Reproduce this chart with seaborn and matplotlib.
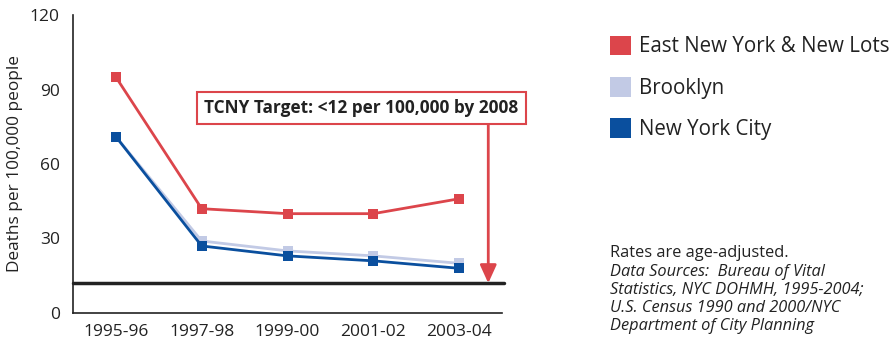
import matplotlib
matplotlib.use("Agg")
import matplotlib.pyplot as plt
import seaborn as sns
import pandas as pd
from matplotlib.patches import Patch

periods = ["1995-96", "1997-98", "1999-00", "2001-02", "2003-04"]
east_ny = [95, 42, 40, 40, 46]
brooklyn = [71, 29, 25, 23, 20]
nyc = [71, 27, 23, 21, 18]
series_names = ["East New York & New Lots", "Brooklyn", "New York City"]
colors = ["#DC454B", "#C2CAE5", "#0A4F9E"]
target = 12
yticks = [0, 30, 60, 90, 120]
note_lines = ["Data Sources:  Bureau of Vital", "Statistics, NYC DOHMH, 1995-2004;",
              "U.S. Census 1990 and 2000/NYC", "Department of City Planning"]

df = pd.concat([
    pd.DataFrame({"period": periods, "rate": vals, "area": name})
    for name, vals in zip(series_names, [east_ny, brooklyn, nyc])
])

sns.set_style("white")
plt.rcParams['font.family'] = ['Open Sans', 'DejaVu Sans']

fig = plt.figure(figsize=(8.92, 3.39), dpi=100)
ax = fig.add_axes([73/892, 1-313/339, (502-73)/892, (313-15)/339])

sns.lineplot(data=df, x="period", y="rate", hue="area", hue_order=series_names,
             palette=colors, marker="s", markersize=7, markeredgewidth=0,
             linewidth=2, legend=False, ax=ax, sort=False)

ax.set_xlim(-0.5, len(periods) - 0.5)
ax.set_ylim(0, 120)
ax.set_yticks(yticks)
ax.set_xticks([i - 0.5 for i in range(len(periods) + 1)])
ax.set_xticklabels([])
ax.set_xticks(range(len(periods)), minor=True)
ax.set_xticklabels(periods, minor=True, fontsize=12.5, color="#222222")
ax.tick_params(axis="x", which="major", length=7, width=1.2, color="#222222", direction="out")
ax.tick_params(axis="x", which="minor", length=0, pad=8)
ax.tick_params(axis="y", length=6, width=1.2, color="#222222", direction="out",
               labelsize=12.5, labelcolor="#222222")
for s in ["top", "right"]:
    ax.spines[s].set_visible(False)
for s in ["left", "bottom"]:
    ax.spines[s].set_color("#222222")
    ax.spines[s].set_linewidth(1.2)
ax.set_xlabel("")
ax.set_ylabel("Deaths per 100,000 people", fontsize=12.4, color="#222222", labelpad=5)

# target line
ax.plot([-0.5, 4.52], [target, target], color="#222222", linewidth=2.5, clip_on=False, zorder=1)

# annotation arrow and box
ax.annotate("", xy=(4.34, target), xytext=(4.34, 75.8),
            arrowprops=dict(arrowstyle="-|>,head_length=1.1,head_width=0.5",
                            color="#DC454B", lw=2, shrinkA=0, shrinkB=0),
            annotation_clip=False, zorder=3)
ax.text(2.86, 82.5, "TCNY Target: <12 per 100,000 by 2008", ha="center", va="center",
        fontsize=12.4, fontweight="bold", color="#222222", clip_on=False, zorder=4,
        bbox=dict(boxstyle="square,pad=0.42", facecolor="white", edgecolor="#DC454B", lw=1.5))

# legend
handles = [Patch(facecolor=c, edgecolor="none") for c in colors]
fig.legend(handles, series_names, loc="upper left", bbox_to_anchor=(591/892, 1-17/339),
           frameon=False, fontsize=14.8, handlelength=1.05, handleheight=1.1,
           labelspacing=0.95, handletextpad=0.4, labelcolor="#222222")

# notes
fig.text(610/892, 1-253/339, "Rates are age-adjusted.", fontsize=11.8, color="#222222", va="center")
for i, line in enumerate(note_lines):
    fig.text(610/892, 1-(271.5 + 18.3*i)/339, line, fontsize=11.8, color="#222222",
             style="italic", va="center")

fig.savefig("out.png", dpi=100)
